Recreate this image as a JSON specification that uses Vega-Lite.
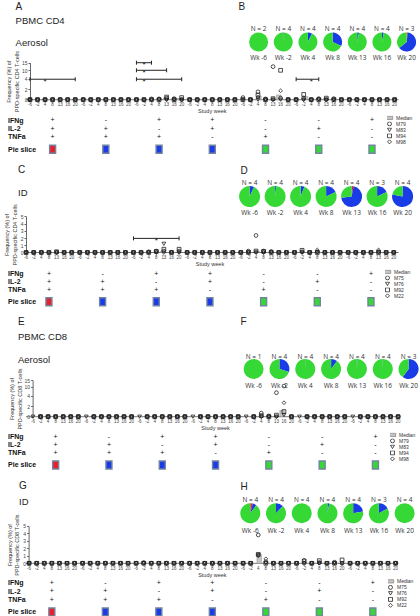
{
"$schema": "https://vega.github.io/schema/vega-lite/v6.json",
"padding": {"left": 4, "top": 1, "right": 0, "bottom": 0},
"autosize": {"type": "pad"},
"spacing": 0,
"bounds": "flush",
"config": {"view": {"stroke": null}, "font": "Liberation Sans",
 "axis": {"grid": false, "labelFontSize": 5, "labelPadding": 1, "tickSize": 2, "titleFontSize": 5.5, "titleFontWeight": "normal", "domainColor": "#666", "tickColor": "#666", "labelColor": "#444", "titleColor": "#333"},
 "legend": {"orient": "none", "symbolSize": 16, "symbolStrokeWidth": 0.8, "labelFontSize": 5, "labelColor": "#333", "labelOffset": 4, "rowPadding": 0, "clipHeight": 4.7, "padding": 0},
 "title": {"anchor": "start", "frame": "group", "font": "Liberation Sans", "fontSize": 10, "fontWeight": "normal", "color": "#222", "subtitleFont": "Liberation Sans", "subtitleFontSize": 9.5, "subtitleColor": "#222", "subtitleLineHeight": 23}},
"datasets": {
"tbl": [
{"g":1,"r":"IFNg","s":"+"},{"g":1,"r":"IL-2","s":"+"},{"g":1,"r":"TNFa","s":"+"},
{"g":2,"r":"IFNg","s":"-"},{"g":2,"r":"IL-2","s":"+"},{"g":2,"r":"TNFa","s":"+"},
{"g":3,"r":"IFNg","s":"+"},{"g":3,"r":"IL-2","s":"-"},{"g":3,"r":"TNFa","s":"+"},
{"g":4,"r":"IFNg","s":"+"},{"g":4,"r":"IL-2","s":"+"},{"g":4,"r":"TNFa","s":"-"},
{"g":5,"r":"IFNg","s":"-"},{"g":5,"r":"IL-2","s":"-"},{"g":5,"r":"TNFa","s":"+"},
{"g":6,"r":"IFNg","s":"-"},{"g":6,"r":"IL-2","s":"+"},{"g":6,"r":"TNFa","s":"-"},
{"g":7,"r":"IFNg","s":"+"},{"g":7,"r":"IL-2","s":"-"},{"g":7,"r":"TNFa","s":"-"}],
"sl": [{"g":1,"k":"3 cytokines"},{"g":2,"k":"2 cytokines"},{"g":3,"k":"2 cytokines"},{"g":4,"k":"2 cytokines"},{"g":5,"k":"1 cytokine"},{"g":6,"k":"1 cytokine"},{"g":7,"k":"1 cytokine"}],
"one": [{}],
"pA": [
{"g":1,"w":-6,"M79":0,"M83":0,"M94":0,"M98":0},{"g":1,"w":-2,"M79":0,"M83":0,"M94":0,"M98":0},{"g":1,"w":4,"M79":0,"M83":0,"M94":0,"M98":0},{"g":1,"w":8,"M79":0,"M83":0,"M94":0,"M98":0},{"g":1,"w":13,"M79":0,"M83":0,"M94":0,"M98":0},{"g":1,"w":16,"M79":0,"M83":0,"M94":0,"M98":0},{"g":1,"w":20,"M79":0,"M83":0,"M94":0,"M98":0},
{"g":2,"w":-6,"M79":0,"M83":0,"M94":0,"M98":0},{"g":2,"w":-2,"M79":0,"M83":0,"M94":0,"M98":0},{"g":2,"w":4,"M79":0,"M83":0,"M94":0,"M98":0},{"g":2,"w":8,"M79":0,"M83":0,"M94":0,"M98":0},{"g":2,"w":13,"M79":0,"M83":0,"M94":0,"M98":0},{"g":2,"w":16,"M79":0,"M83":0,"M94":0,"M98":0},{"g":2,"w":20,"M79":0,"M83":0,"M94":0,"M98":0},
{"g":3,"w":-6,"M79":0,"M83":0,"M94":0,"M98":0},{"g":3,"w":-2,"M79":0,"M83":0,"M94":0,"M98":0},{"g":3,"w":4,"M79":0.15,"M83":0,"M94":0,"M98":0},{"g":3,"w":8,"M79":0.15,"M83":0,"M94":0,"M98":0.1},{"g":3,"w":13,"M79":0.3,"M83":0,"M94":0.5,"M98":0},{"g":3,"w":16,"M79":0.2,"M83":0,"M94":0,"M98":0},{"g":3,"w":20,"M79":0,"M83":0,"M94":0.4,"M98":0},
{"g":4,"w":-6,"M79":0,"M83":0,"M94":0,"M98":0},{"g":4,"w":-2,"M79":0,"M83":0,"M94":0,"M98":0},{"g":4,"w":4,"M79":0,"M83":0,"M94":0,"M98":0},{"g":4,"w":8,"M79":0,"M83":0,"M94":0,"M98":0},{"g":4,"w":13,"M79":0,"M83":0,"M94":0,"M98":0},{"g":4,"w":16,"M79":0,"M83":0,"M94":0,"M98":0},{"g":4,"w":20,"M79":0,"M83":0,"M94":0,"M98":0},
{"g":5,"w":-6,"M79":0.4,"M83":0,"M94":0,"M98":0},{"g":5,"w":-2,"M79":0,"M83":0,"M94":0,"M98":0},{"g":5,"w":4,"M79":1.5,"M83":0,"M94":0.9,"M98":0.5},{"g":5,"w":8,"M79":0.15,"M83":0,"M94":0,"M98":0},{"g":5,"w":13,"M79":12.3,"M83":0,"M94":0.2,"M98":0},{"g":5,"w":16,"M79":0.3,"M83":0,"M94":9.8,"M98":1.7},{"g":5,"w":20,"M79":0,"M83":0,"M94":0,"M98":0},
{"g":6,"w":-6,"M79":0,"M83":0,"M94":0,"M98":0},{"g":6,"w":-2,"M79":0.3,"M83":0,"M94":1.0,"M98":0},{"g":6,"w":4,"M79":0,"M83":0,"M94":0,"M98":0},{"g":6,"w":8,"M79":0.2,"M83":0,"M94":0,"M98":0.15},{"g":6,"w":13,"M79":0,"M83":0,"M94":0.3,"M98":0},{"g":6,"w":16,"M79":0.2,"M83":0,"M94":0,"M98":0},{"g":6,"w":20,"M79":0,"M83":0,"M94":0,"M98":0},
{"g":7,"w":-6,"M79":0,"M83":0,"M94":0,"M98":0},{"g":7,"w":-2,"M79":0,"M83":0,"M94":0,"M98":0},{"g":7,"w":4,"M79":0,"M83":0,"M94":0,"M98":0},{"g":7,"w":8,"M79":0,"M83":0,"M94":0,"M98":0},{"g":7,"w":13,"M79":0,"M83":0,"M94":0,"M98":0},{"g":7,"w":16,"M79":0,"M83":0,"M94":0,"M98":0},{"g":7,"w":20,"M79":0,"M83":0,"M94":0,"M98":0}],
"mA": [{"g":3,"w":13,"v":0.35},{"g":3,"w":20,"v":0.25},{"g":5,"w":4,"v":0.7},{"g":5,"w":16,"v":0.9},{"g":6,"w":-2,"v":0.6},{"g":6,"w":13,"v":0.2}],
"bA": [{"b":1,"g":1,"w":-6,"y":3.9},{"b":1,"g":1,"w":20,"y":3.9},{"b":2,"g":3,"w":-6,"y":15},{"b":2,"g":3,"w":4,"y":15},{"b":3,"g":3,"w":-6,"y":9.8},{"b":3,"g":3,"w":13,"y":9.8},{"b":4,"g":3,"w":-6,"y":3.9},{"b":4,"g":3,"w":20,"y":3.9},{"b":5,"g":6,"w":-6,"y":3.9},{"b":5,"g":6,"w":8,"y":3.9}],
"sA": [{"g":1,"w":4,"y":3.9},{"g":3,"w":-2,"y":15},{"g":3,"w":-2,"y":9.8},{"g":3,"w":-2,"y":3.9},{"g":6,"w":4,"y":3.9}],
"pieA": [{"w":"Wk -6","k":"1 cytokine","f":1},{"w":"Wk -2","k":"2 cytokines","f":0.01},{"w":"Wk -2","k":"1 cytokine","f":0.99},{"w":"Wk 4","k":"2 cytokines","f":0.07},{"w":"Wk 4","k":"1 cytokine","f":0.93},{"w":"Wk 8","k":"2 cytokines","f":0.32},{"w":"Wk 8","k":"1 cytokine","f":0.68},{"w":"Wk 13","k":"2 cytokines","f":0.03},{"w":"Wk 13","k":"1 cytokine","f":0.97},{"w":"Wk 16","k":"2 cytokines","f":0.03},{"w":"Wk 16","k":"1 cytokine","f":0.97},{"w":"Wk 20","k":"3 cytokines","f":0.02},{"w":"Wk 20","k":"2 cytokines","f":0.62},{"w":"Wk 20","k":"1 cytokine","f":0.36}],
"nA": [{"w":"Wk -6","n":"N = 2"},{"w":"Wk -2","n":"N = 4"},{"w":"Wk 4","n":"N = 4"},{"w":"Wk 8","n":"N = 4"},{"w":"Wk 13","n":"N = 4"},{"w":"Wk 16","n":"N = 4"},{"w":"Wk 20","n":"N = 3"}],
"pC": [
{"g":1,"w":-6,"M75":0,"M76":0,"M92":0,"M22":0},{"g":1,"w":-2,"M75":0,"M76":0,"M92":0,"M22":0},{"g":1,"w":4,"M75":0,"M76":0,"M92":0,"M22":0},{"g":1,"w":8,"M75":0,"M76":0,"M92":0,"M22":0},{"g":1,"w":13,"M75":0,"M76":0,"M92":0.1,"M22":0},{"g":1,"w":16,"M75":0,"M76":0,"M92":0,"M22":0},{"g":1,"w":20,"M75":0,"M76":0,"M92":0,"M22":0},
{"g":2,"w":-6,"M75":0,"M76":0,"M92":0,"M22":0},{"g":2,"w":-2,"M75":0,"M76":0,"M92":0,"M22":0},{"g":2,"w":4,"M75":0,"M76":0,"M92":0,"M22":0},{"g":2,"w":8,"M75":0,"M76":0,"M92":0,"M22":0},{"g":2,"w":13,"M75":0,"M76":0,"M92":0,"M22":0},{"g":2,"w":16,"M75":0,"M76":0,"M92":0,"M22":0},{"g":2,"w":20,"M75":0,"M76":0,"M92":0,"M22":0},
{"g":3,"w":-6,"M75":0,"M76":0,"M92":0,"M22":0},{"g":3,"w":-2,"M75":0,"M76":0,"M92":0,"M22":0},{"g":3,"w":4,"M75":0.1,"M76":0,"M92":0,"M22":0},{"g":3,"w":8,"M75":0.2,"M76":0,"M92":0.15,"M22":0},{"g":3,"w":13,"M75":0.2,"M76":1.2,"M92":0.45,"M22":0},{"g":3,"w":16,"M75":0,"M76":0,"M92":0,"M22":0},{"g":3,"w":20,"M75":0.2,"M76":0,"M92":0.45,"M22":0},
{"g":4,"w":-6,"M75":0,"M76":0,"M92":0,"M22":0},{"g":4,"w":-2,"M75":0,"M76":0,"M92":0,"M22":0},{"g":4,"w":4,"M75":0,"M76":0,"M92":0,"M22":0},{"g":4,"w":8,"M75":0,"M76":0,"M92":0,"M22":0},{"g":4,"w":13,"M75":0,"M76":0,"M92":0,"M22":0},{"g":4,"w":16,"M75":0,"M76":0,"M92":0,"M22":0},{"g":4,"w":20,"M75":0,"M76":0,"M92":0,"M22":0},
{"g":5,"w":-6,"M75":0,"M76":0,"M92":0,"M22":0},{"g":5,"w":-2,"M75":0.2,"M76":0,"M92":0,"M22":0},{"g":5,"w":4,"M75":2.35,"M76":0,"M92":0.2,"M22":0},{"g":5,"w":8,"M75":0.2,"M76":0,"M92":0.15,"M22":0},{"g":5,"w":13,"M75":0.15,"M76":0,"M92":0,"M22":0},{"g":5,"w":16,"M75":0,"M76":0,"M92":0,"M22":0},{"g":5,"w":20,"M75":0,"M76":0,"M92":0,"M22":0},
{"g":6,"w":-6,"M75":0,"M76":0,"M92":0,"M22":0},{"g":6,"w":-2,"M75":0.1,"M76":0,"M92":0.3,"M22":0},{"g":6,"w":4,"M75":0,"M76":0,"M92":0,"M22":0},{"g":6,"w":8,"M75":0.1,"M76":0,"M92":0,"M22":0.35},{"g":6,"w":13,"M75":0,"M76":0,"M92":0,"M22":0},{"g":6,"w":16,"M75":0,"M76":0,"M92":0,"M22":0},{"g":6,"w":20,"M75":0,"M76":0,"M92":0,"M22":0},
{"g":7,"w":-6,"M75":0,"M76":0,"M92":0,"M22":0},{"g":7,"w":-2,"M75":0,"M76":0,"M92":0,"M22":0},{"g":7,"w":4,"M75":0,"M76":0,"M92":0,"M22":0},{"g":7,"w":8,"M75":0,"M76":0,"M92":0,"M22":0},{"g":7,"w":13,"M75":0.1,"M76":0,"M92":0,"M22":0.35},{"g":7,"w":16,"M75":0,"M76":0,"M92":0,"M22":0},{"g":7,"w":20,"M75":0,"M76":0,"M92":0,"M22":0}],
"mC": [{"g":3,"w":13,"v":0.2},{"g":5,"w":4,"v":0.2}],
"bC": [{"b":1,"g":3,"w":-6,"y":1.95},{"b":1,"g":3,"w":20,"y":1.95}],
"sC": [{"g":3,"w":8,"y":1.95}],
"pieC": [{"w":"Wk -6","k":"2 cytokines","f":0.07},{"w":"Wk -6","k":"1 cytokine","f":0.93},{"w":"Wk -2","k":"2 cytokines","f":0.02},{"w":"Wk -2","k":"1 cytokine","f":0.98},{"w":"Wk 4","k":"2 cytokines","f":0.06},{"w":"Wk 4","k":"1 cytokine","f":0.94},{"w":"Wk 8","k":"2 cytokines","f":0.18},{"w":"Wk 8","k":"1 cytokine","f":0.82},{"w":"Wk 13","k":"3 cytokines","f":0.03},{"w":"Wk 13","k":"2 cytokines","f":0.7},{"w":"Wk 13","k":"1 cytokine","f":0.27},{"w":"Wk 16","k":"2 cytokines","f":0.18},{"w":"Wk 16","k":"1 cytokine","f":0.82},{"w":"Wk 20","k":"2 cytokines","f":0.78},{"w":"Wk 20","k":"1 cytokine","f":0.22}],
"nC": [{"w":"Wk -6","n":"N = 4"},{"w":"Wk -2","n":"N = 4"},{"w":"Wk 4","n":"N = 4"},{"w":"Wk 8","n":"N = 4"},{"w":"Wk 13","n":"N = 4"},{"w":"Wk 16","n":"N = 3"},{"w":"Wk 20","n":"N = 4"}],
"pE": [
{"g":1,"w":-6,"M83":0},{"g":1,"w":-2,"M79":0,"M83":0,"M94":0,"M98":0},{"g":1,"w":4,"M79":0,"M83":0,"M94":0,"M98":0},{"g":1,"w":8,"M79":0,"M83":0,"M94":0,"M98":0},{"g":1,"w":13,"M79":0,"M83":0,"M94":0,"M98":0},{"g":1,"w":16,"M79":0,"M83":0,"M94":0,"M98":0},{"g":1,"w":20,"M79":0,"M83":0,"M94":0,"M98":0},
{"g":2,"w":-6,"M83":0},{"g":2,"w":-2,"M79":0,"M83":0,"M94":0,"M98":0},{"g":2,"w":4,"M79":0,"M83":0,"M94":0,"M98":0},{"g":2,"w":8,"M79":0,"M83":0,"M94":0,"M98":0},{"g":2,"w":13,"M79":0,"M83":0,"M94":0,"M98":0},{"g":2,"w":16,"M79":0,"M83":0,"M94":0,"M98":0},{"g":2,"w":20,"M79":0,"M83":0,"M94":0,"M98":0},
{"g":3,"w":-6,"M83":0},{"g":3,"w":-2,"M79":0,"M83":0,"M94":0,"M98":0},{"g":3,"w":4,"M79":0,"M83":0,"M94":0,"M98":0},{"g":3,"w":8,"M79":0,"M83":0,"M94":0,"M98":0},{"g":3,"w":13,"M79":0,"M83":0,"M94":0,"M98":0},{"g":3,"w":16,"M79":0,"M83":0,"M94":0,"M98":0},{"g":3,"w":20,"M79":0,"M83":0,"M94":0,"M98":0},
{"g":4,"w":-6,"M83":0},{"g":4,"w":-2,"M79":0,"M83":0,"M94":0,"M98":0},{"g":4,"w":4,"M79":0,"M83":0,"M94":0,"M98":0},{"g":4,"w":8,"M79":0,"M83":0,"M94":0,"M98":0},{"g":4,"w":13,"M79":0,"M83":0,"M94":0,"M98":0},{"g":4,"w":16,"M79":0,"M83":0,"M94":0,"M98":0},{"g":4,"w":20,"M79":0,"M83":0,"M94":0,"M98":0},
{"g":5,"w":-6,"M83":0},{"g":5,"w":-2,"M79":0,"M83":0,"M94":0,"M98":0},{"g":5,"w":4,"M79":0.7,"M83":0,"M94":0.2,"M98":0},{"g":5,"w":8,"M79":0.15,"M83":0,"M94":0,"M98":0},{"g":5,"w":13,"M79":6.2,"M83":0,"M94":0.3,"M98":0},{"g":5,"w":16,"M79":10.7,"M83":0.3,"M94":1.0,"M98":2.7},{"g":5,"w":20,"M79":0,"M83":0,"M94":0,"M98":0},
{"g":6,"w":-6,"M83":0},{"g":6,"w":-2,"M79":0,"M83":0,"M94":0,"M98":0},{"g":6,"w":4,"M79":0,"M83":0,"M94":0,"M98":0},{"g":6,"w":8,"M79":0,"M83":0,"M94":0,"M98":0},{"g":6,"w":13,"M79":0,"M83":0,"M94":0,"M98":0},{"g":6,"w":16,"M79":0,"M83":0,"M94":0,"M98":0},{"g":6,"w":20,"M79":0,"M83":0,"M94":0,"M98":0},
{"g":7,"w":-6,"M83":0},{"g":7,"w":-2,"M79":0,"M83":0,"M94":0,"M98":0},{"g":7,"w":4,"M79":0,"M83":0,"M94":0,"M98":0},{"g":7,"w":8,"M79":0,"M83":0,"M94":0,"M98":0},{"g":7,"w":13,"M79":0,"M83":0,"M94":0,"M98":0},{"g":7,"w":16,"M79":0,"M83":0,"M94":0,"M98":0},{"g":7,"w":20,"M79":0,"M83":0,"M94":0,"M98":0}],
"mE": [{"g":5,"w":16,"v":1.2}],
"pieE": [{"w":"Wk -6","k":"1 cytokine","f":1},{"w":"Wk -2","k":"2 cytokines","f":0.3},{"w":"Wk -2","k":"1 cytokine","f":0.7},{"w":"Wk 4","k":"2 cytokines","f":0.005},{"w":"Wk 4","k":"1 cytokine","f":0.995},{"w":"Wk 8","k":"2 cytokines","f":0.1},{"w":"Wk 8","k":"1 cytokine","f":0.9},{"w":"Wk 13","k":"2 cytokines","f":0.01},{"w":"Wk 13","k":"1 cytokine","f":0.99},{"w":"Wk 16","k":"2 cytokines","f":0.005},{"w":"Wk 16","k":"1 cytokine","f":0.995},{"w":"Wk 20","k":"2 cytokines","f":0.6},{"w":"Wk 20","k":"1 cytokine","f":0.4}],
"nE": [{"w":"Wk -6","n":"N = 1"},{"w":"Wk -2","n":"N = 4"},{"w":"Wk 4","n":"N = 4"},{"w":"Wk 8","n":"N = 4"},{"w":"Wk 13","n":"N = 4"},{"w":"Wk 16","n":"N = 4"},{"w":"Wk 20","n":"N = 3"}],
"pG": [
{"g":1,"w":-6,"M75":0,"M76":0,"M92":0,"M22":0},{"g":1,"w":-2,"M75":0,"M76":0,"M92":0,"M22":0},{"g":1,"w":4,"M75":0,"M76":0,"M92":0,"M22":0},{"g":1,"w":8,"M75":0,"M76":0,"M92":0,"M22":0},{"g":1,"w":13,"M75":0,"M76":0,"M92":0,"M22":0},{"g":1,"w":16,"M75":0,"M76":0,"M92":0,"M22":0},{"g":1,"w":20,"M75":0,"M76":0,"M92":0,"M22":0},
{"g":2,"w":-6,"M75":0,"M76":0,"M92":0,"M22":0},{"g":2,"w":-2,"M75":0,"M76":0,"M92":0,"M22":0},{"g":2,"w":4,"M75":0,"M76":0,"M92":0,"M22":0},{"g":2,"w":8,"M75":0,"M76":0,"M92":0,"M22":0},{"g":2,"w":13,"M75":0,"M76":0,"M92":0,"M22":0},{"g":2,"w":16,"M75":0,"M76":0,"M92":0,"M22":0},{"g":2,"w":20,"M75":0,"M76":0,"M92":0,"M22":0},
{"g":3,"w":-6,"M75":0,"M76":0,"M92":0,"M22":0},{"g":3,"w":-2,"M75":0.1,"M76":0,"M92":0,"M22":0},{"g":3,"w":4,"M75":0,"M76":0,"M92":0,"M22":0},{"g":3,"w":8,"M75":0,"M76":0,"M92":0,"M22":0},{"g":3,"w":13,"M75":0,"M76":0,"M92":0,"M22":0},{"g":3,"w":16,"M75":0,"M76":0,"M92":0,"M22":0},{"g":3,"w":20,"M75":0,"M76":0,"M92":0,"M22":0},
{"g":4,"w":-6,"M75":0,"M76":0,"M92":0,"M22":0},{"g":4,"w":-2,"M75":0,"M76":0,"M92":0,"M22":0},{"g":4,"w":4,"M75":0,"M76":0,"M92":0,"M22":0},{"g":4,"w":8,"M75":0,"M76":0,"M92":0,"M22":0},{"g":4,"w":13,"M75":0,"M76":0,"M92":0,"M22":0},{"g":4,"w":16,"M75":0,"M76":0,"M92":0,"M22":0},{"g":4,"w":20,"M75":0,"M76":0,"M92":0,"M22":0},
{"g":5,"w":-6,"M75":0,"M76":0,"M92":0,"M22":0},{"g":5,"w":-2,"M75":0,"M76":0,"M92":0,"M22":0},{"g":5,"w":4,"M75":3.8,"M76":1.1,"M92":1.2,"M22":1.0},{"g":5,"w":8,"M75":0.2,"M76":0,"M92":0,"M22":0.6},{"g":5,"w":13,"M75":0,"M76":0,"M92":0,"M22":0},{"g":5,"w":16,"M75":0,"M76":0,"M92":0,"M22":0},{"g":5,"w":20,"M75":0,"M76":0,"M92":0,"M22":0},
{"g":6,"w":-6,"M75":0,"M76":0,"M92":0,"M22":0},{"g":6,"w":-2,"M75":0,"M76":0,"M92":0.3,"M22":0.45},{"g":6,"w":4,"M75":0,"M76":0,"M92":0,"M22":0},{"g":6,"w":8,"M75":0.1,"M76":0,"M92":0.35,"M22":0},{"g":6,"w":13,"M75":0,"M76":0,"M92":0,"M22":0},{"g":6,"w":16,"M75":0.15,"M76":0,"M92":0,"M22":0},{"g":6,"w":20,"M75":0,"M76":0,"M92":0.45,"M22":0},
{"g":7,"w":-6,"M75":0,"M76":0,"M92":0,"M22":0},{"g":7,"w":-2,"M75":0,"M76":0,"M92":0,"M22":0},{"g":7,"w":4,"M75":0,"M76":0,"M92":0,"M22":0},{"g":7,"w":8,"M75":0,"M76":0,"M92":0,"M22":0},{"g":7,"w":13,"M75":0,"M76":0,"M92":0,"M22":0},{"g":7,"w":16,"M75":0,"M76":0,"M92":0,"M22":0},{"g":7,"w":20,"M75":0,"M76":0,"M92":0,"M22":0}],
"mG": [{"g":5,"w":4,"v":1.2}],
"pieG": [{"w":"Wk -6","k":"3 cytokines","f":0.04},{"w":"Wk -6","k":"2 cytokines","f":0.06},{"w":"Wk -6","k":"1 cytokine","f":0.9},{"w":"Wk -2","k":"2 cytokines","f":0.12},{"w":"Wk -2","k":"1 cytokine","f":0.88},{"w":"Wk 4","k":"1 cytokine","f":1},{"w":"Wk 8","k":"2 cytokines","f":0.03},{"w":"Wk 8","k":"1 cytokine","f":0.97},{"w":"Wk 13","k":"2 cytokines","f":0.22},{"w":"Wk 13","k":"1 cytokine","f":0.78},{"w":"Wk 16","k":"2 cytokines","f":0.17},{"w":"Wk 16","k":"1 cytokine","f":0.83},{"w":"Wk 20","k":"1 cytokine","f":1}],
"nG": [{"w":"Wk -6","n":"N = 4"},{"w":"Wk -2","n":"N = 4"},{"w":"Wk 4","n":"N = 4"},{"w":"Wk 8","n":"N = 4"},{"w":"Wk 13","n":"N = 4"},{"w":"Wk 16","n":"N = 3"},{"w":"Wk 20","n":"N = 4"}]
},
"vconcat": [
{
"width": 372.6, "height": 150,
"title": {"text": "A", "subtitle": ["PBMC CD4", "Aerosol"], "dx": -10.4, "offset": -46.5, "subtitlePadding": 3.5},
"resolve": {"scale": {"x": "independent", "y": "independent", "xOffset": "independent"}},
"layer": [
{"data": {"name": "one"}, "mark": {"type": "rule", "color": "#555", "strokeWidth": 0.8},
 "encoding": {"y": {"datum": 0, "type": "quantitative", "scale": {"domain": [0,4,10,15], "range": [43.7,22.7,14,6.7]}, "axis": null}}},
{"data": {"name": "mA"}, "mark": {"type": "bar", "width": 4.5, "fill": "#c6c6c6", "stroke": "#8c8c8c", "strokeWidth": 0.5},
 "encoding": {"x": {"field": "g", "type": "ordinal", "scale": {"domain": [1,2,3,4,5,6,7], "paddingInner": 0, "paddingOuter": 0}, "axis": null}, "xOffset": {"field": "w", "type": "ordinal", "scale": {"domain": [-6,-2,4,8,13,16,20], "paddingInner": 0, "paddingOuter": 0.53}},
  "y": {"field": "v", "type": "quantitative", "scale": {"domain": [0,4,10,15], "range": [43.7,22.7,14,6.7]}, "axis": null}}},
{"data": {"name": "pA"}, "transform": [{"fold": ["M79","M83","M94","M98"], "as": ["m","v"]}], "mark": {"type": "point", "size": 14, "strokeWidth": 0.8, "opacity": 1},
 "encoding": {
  "x": {"field": "g", "type": "ordinal", "scale": {"domain": [1,2,3,4,5,6,7], "paddingInner": 0, "paddingOuter": 0}, "axis": null},
  "xOffset": {"field": "w", "type": "ordinal", "scale": {"domain": [-6,-2,4,8,13,16,20], "paddingInner": 0, "paddingOuter": 0.53}},
  "y": {"field": "v", "type": "quantitative", "scale": {"domain": [0,4,10,15], "range": [43.7,22.7,14,6.7]}, "axis": {"orient": "left", "offset": -4, "values": [0,2,4,10,15], "title": ["Frequency (%) of","PPD-specific CD4 T-cells"], "titlePadding": 2}},
  "shape": {"field": "m", "type": "nominal", "scale": {"domain": ["Median","M79","M83","M94","M98"], "range": ["M-1.6,-0.8H1.6V0.8H-1.6Z","circle","triangle-down","square","diamond"]}, "legend": {"title": null, "legendX": 361, "legendY": 59.5, "encode": {"labels": {"update": {"fontSize": {"signal": "datum.label === 'Median' ? 6.5 : 5"}}}}}},
  "fill": {"field": "m", "type": "nominal", "scale": {"domain": ["Median","M79","M83","M94","M98"], "range": ["#c6c6c6","transparent","transparent","transparent","transparent"]}, "legend": {"title": null, "legendX": 361, "legendY": 59.5, "encode": {"labels": {"update": {"fontSize": {"signal": "datum.label === 'Median' ? 6.5 : 5"}}}}}},
  "stroke": {"field": "m", "type": "nominal", "scale": {"domain": ["Median","M79","M83","M94","M98"], "range": ["#8c8c8c","#222","#222","#222","#222"]}, "legend": {"title": null, "legendX": 361, "legendY": 59.5, "encode": {"labels": {"update": {"fontSize": {"signal": "datum.label === 'Median' ? 6.5 : 5"}}}}}}
 }},
{"data": {"name": "pA"}, "mark": {"type": "text", "fontSize": 4.5, "color": "#444", "dy": 5.5, "baseline": "middle"},
 "encoding": {"x": {"field": "g", "type": "ordinal", "scale": {"domain": [1,2,3,4,5,6,7], "paddingInner": 0, "paddingOuter": 0}, "axis": null}, "xOffset": {"field": "w", "type": "ordinal", "scale": {"domain": [-6,-2,4,8,13,16,20], "paddingInner": 0, "paddingOuter": 0.53}},
  "y": {"datum": 0, "type": "quantitative", "scale": {"domain": [0,4,10,15], "range": [43.7,22.7,14,6.7]}, "axis": null}, "text": {"field": "w", "type": "nominal"}}},
{"data": {"name": "one"}, "mark": {"type": "text", "text": "Study week", "fontSize": 5.5, "color": "#333", "dy": 11.5, "baseline": "middle"},
 "encoding": {"x": {"datum": 4, "type": "ordinal", "scale": {"domain": [1,2,3,4,5,6,7], "paddingInner": 0, "paddingOuter": 0}, "axis": null},
  "y": {"datum": 0, "type": "quantitative", "scale": {"domain": [0,4,10,15], "range": [43.7,22.7,14,6.7]}, "axis": null}}},
{"data": {"name": "bA"}, "mark": {"type": "line", "color": "#222", "strokeWidth": 1},
 "encoding": {"x": {"field": "g", "type": "ordinal", "scale": {"domain": [1,2,3,4,5,6,7], "paddingInner": 0, "paddingOuter": 0}, "axis": null}, "xOffset": {"field": "w", "type": "ordinal", "scale": {"domain": [-6,-2,4,8,13,16,20], "paddingInner": 0, "paddingOuter": 0.53}},
  "y": {"field": "y", "type": "quantitative", "scale": {"domain": [0,4,10,15], "range": [43.7,22.7,14,6.7]}, "axis": null}, "detail": {"field": "b", "type": "nominal"}}},
{"data": {"name": "bA"}, "mark": {"type": "point", "shape": "M0,-1V1", "size": 16, "stroke": "#222", "strokeWidth": 1, "filled": false, "opacity": 1},
 "encoding": {"x": {"field": "g", "type": "ordinal", "scale": {"domain": [1,2,3,4,5,6,7], "paddingInner": 0, "paddingOuter": 0}, "axis": null}, "xOffset": {"field": "w", "type": "ordinal", "scale": {"domain": [-6,-2,4,8,13,16,20], "paddingInner": 0, "paddingOuter": 0.53}},
  "y": {"field": "y", "type": "quantitative", "scale": {"domain": [0,4,10,15], "range": [43.7,22.7,14,6.7]}, "axis": null}}},
{"data": {"name": "sA"}, "mark": {"type": "text", "text": "*", "fontSize": 8, "dy": 2.5, "color": "#222"},
 "encoding": {"x": {"field": "g", "type": "ordinal", "scale": {"domain": [1,2,3,4,5,6,7], "paddingInner": 0, "paddingOuter": 0}, "axis": null}, "xOffset": {"field": "w", "type": "ordinal", "scale": {"domain": [-6,-2,4,8,13,16,20], "paddingInner": 0, "paddingOuter": 0.53}},
  "y": {"field": "y", "type": "quantitative", "scale": {"domain": [0,4,10,15], "range": [43.7,22.7,14,6.7]}, "axis": null}}},
{"data": {"name": "tbl"}, "mark": {"type": "text", "fontSize": 7, "color": "#111", "baseline": "middle"},
 "encoding": {"x": {"field": "g", "type": "ordinal", "scale": {"domain": [1,2,3,4,5,6,7], "paddingInner": 0, "paddingOuter": 0}, "axis": null},
  "y": {"field": "r", "type": "nominal", "scale": {"type": "point", "domain": ["IFNg","a","IL-2","b","TNFa","c","d","Pie slice"], "range": [64.3, 93.3], "padding": 0}, "axis": {"orient": "left", "domain": false, "ticks": false, "tickSize": 0, "labelPadding": 18.4, "labelAlign": "left", "labelBaseline": "middle", "labelFontSize": 7, "labelFontWeight": "bold", "labelColor": "#111", "title": null, "values": ["IFNg","IL-2","TNFa","Pie slice"]}},
  "text": {"field": "s", "type": "nominal"}}},
{"data": {"name": "sl"}, "mark": {"type": "point", "shape": "M-0.75,-1H0.75V1H-0.75Z", "size": 64, "filled": true, "opacity": 1, "stroke": "#7284a0", "strokeWidth": 1.4},
 "encoding": {"x": {"field": "g", "type": "ordinal", "scale": {"domain": [1,2,3,4,5,6,7], "paddingInner": 0, "paddingOuter": 0}, "axis": null},
  "y": {"datum": "Pie slice", "type": "nominal", "scale": {"type": "point", "domain": ["IFNg","a","IL-2","b","TNFa","c","d","Pie slice"], "range": [64.3, 93.3], "padding": 0}, "axis": null},
  "color": {"field": "k", "type": "nominal", "scale": {"domain": ["3 cytokines","2 cytokines","1 cytokine"], "range": ["#e8202a","#1a3ce6","#35d835"]}, "legend": null}}},
{"data": {"name": "pieA"}, "transform": [{"stack": "f", "groupby": ["w"], "sort": [{"field": "k", "order": "descending"}], "offset": "normalize", "as": ["f0","f1"]}], "mark": {"type": "arc", "radius": 9.5},
 "encoding": {"x": {"field": "w", "type": "ordinal", "scale": {"type": "point", "domain": ["Wk -6","Wk -2","Wk 4","Wk 8","Wk 13","Wk 16","Wk 20"], "range": [232.6, 380.6], "padding": 0}, "axis": null},
  "y": {"datum": 0, "type": "quantitative", "scale": {"domain": [0,1], "range": [-14,-24]}, "axis": null},
  "theta": {"field": "f0", "type": "quantitative", "scale": {"domain": [0,1], "range": [0, 6.2832]}, "stack": null}, "theta2": {"field": "f1"},
  "color": {"field": "k", "type": "nominal", "scale": {"domain": ["3 cytokines","2 cytokines","1 cytokine"], "range": ["#e8202a","#1a3ce6","#35d835"]}, "legend": null}}},
{"data": {"name": "nA"}, "mark": {"type": "text", "font": "Open Sans", "fontSize": 6.5, "color": "#333", "dy": -13, "baseline": "middle"},
 "encoding": {"x": {"field": "w", "type": "ordinal", "scale": {"type": "point", "domain": ["Wk -6","Wk -2","Wk 4","Wk 8","Wk 13","Wk 16","Wk 20"], "range": [232.6, 380.6], "padding": 0}, "axis": null},
  "y": {"datum": 0, "type": "quantitative", "scale": {"domain": [0,1], "range": [-14,-24]}, "axis": null}, "text": {"field": "n", "type": "nominal"}}},
{"data": {"name": "nA"}, "mark": {"type": "text", "font": "Open Sans", "fontSize": 6.5, "color": "#333", "dy": 16.3, "baseline": "middle"},
 "encoding": {"x": {"field": "w", "type": "ordinal", "scale": {"type": "point", "domain": ["Wk -6","Wk -2","Wk 4","Wk 8","Wk 13","Wk 16","Wk 20"], "range": [232.6, 380.6], "padding": 0}, "axis": null},
  "y": {"datum": 0, "type": "quantitative", "scale": {"domain": [0,1], "range": [-14,-24]}, "axis": null}, "text": {"field": "w", "type": "nominal"}}},
{"data": {"name": "one"}, "mark": {"type": "text", "text": "B", "font": "Liberation Sans", "fontSize": 10, "align": "left", "baseline": "alphabetic", "dx": -20, "dy": -32.5, "color": "#222"},
 "encoding": {"x": {"datum": "Wk -6", "type": "ordinal", "scale": {"type": "point", "domain": ["Wk -6","Wk -2","Wk 4","Wk 8","Wk 13","Wk 16","Wk 20"], "range": [232.6, 380.6], "padding": 0}, "axis": null},
  "y": {"datum": 0, "type": "quantitative", "scale": {"domain": [0,1], "range": [-14,-24]}, "axis": null}}}
]
},
{
"width": 372.6, "height": 165,
"title": {"text": "C", "subtitle": ["ID"], "dx": -8, "offset": -31.3, "subtitlePadding": 12.5},
"resolve": {"scale": {"x": "independent", "y": "independent", "xOffset": "independent"}},
"layer": [
{"data": {"name": "one"}, "mark": {"type": "rule", "color": "#555", "strokeWidth": 0.8},
 "encoding": {"y": {"datum": 0, "type": "quantitative", "scale": {"domain": [0,5], "range": [46.5,10.3]}, "axis": null}}},
{"data": {"name": "mC"}, "mark": {"type": "bar", "width": 4.5, "fill": "#c6c6c6", "stroke": "#8c8c8c", "strokeWidth": 0.5},
 "encoding": {"x": {"field": "g", "type": "ordinal", "scale": {"domain": [1,2,3,4,5,6,7], "range": [-3.9, 371.8], "paddingInner": 0, "paddingOuter": 0}, "axis": null}, "xOffset": {"field": "w", "type": "ordinal", "scale": {"domain": [-6,-2,4,8,13,16,20], "paddingInner": 0, "paddingOuter": 0.53}},
  "y": {"field": "v", "type": "quantitative", "scale": {"domain": [0,5], "range": [46.5,10.3]}, "axis": null}}},
{"data": {"name": "pC"}, "transform": [{"fold": ["M75","M76","M92","M22"], "as": ["m","v"]}], "mark": {"type": "point", "size": 14, "strokeWidth": 0.8, "opacity": 1},
 "encoding": {
  "x": {"field": "g", "type": "ordinal", "scale": {"domain": [1,2,3,4,5,6,7], "range": [-3.9, 371.8], "paddingInner": 0, "paddingOuter": 0}, "axis": null},
  "xOffset": {"field": "w", "type": "ordinal", "scale": {"domain": [-6,-2,4,8,13,16,20], "paddingInner": 0, "paddingOuter": 0.53}},
  "y": {"field": "v", "type": "quantitative", "scale": {"domain": [0,5], "range": [46.5,10.3]}, "axis": {"orient": "left", "offset": 0, "values": [0,1,2,3,4,5], "title": ["Frequency (%) of","PPD-specific CD4 T-cells"], "titlePadding": 3}},
  "shape": {"field": "m", "type": "nominal", "scale": {"domain": ["Median","M75","M76","M92","M22"], "range": ["M-1.6,-0.8H1.6V0.8H-1.6Z","circle","triangle-down","square","diamond"]}, "legend": {"title": null, "legendX": 359, "legendY": 63.5, "encode": {"labels": {"update": {"fontSize": {"signal": "datum.label === 'Median' ? 6.5 : 5"}}}}}},
  "fill": {"field": "m", "type": "nominal", "scale": {"domain": ["Median","M75","M76","M92","M22"], "range": ["#c6c6c6","transparent","transparent","transparent","transparent"]}, "legend": {"title": null, "legendX": 359, "legendY": 63.5, "encode": {"labels": {"update": {"fontSize": {"signal": "datum.label === 'Median' ? 6.5 : 5"}}}}}},
  "stroke": {"field": "m", "type": "nominal", "scale": {"domain": ["Median","M75","M76","M92","M22"], "range": ["#8c8c8c","#222","#222","#222","#222"]}, "legend": {"title": null, "legendX": 359, "legendY": 63.5, "encode": {"labels": {"update": {"fontSize": {"signal": "datum.label === 'Median' ? 6.5 : 5"}}}}}}
 }},
{"data": {"name": "pC"}, "mark": {"type": "text", "fontSize": 4.5, "color": "#444", "dy": 5.5, "baseline": "middle"},
 "encoding": {"x": {"field": "g", "type": "ordinal", "scale": {"domain": [1,2,3,4,5,6,7], "range": [-3.9, 371.8], "paddingInner": 0, "paddingOuter": 0}, "axis": null}, "xOffset": {"field": "w", "type": "ordinal", "scale": {"domain": [-6,-2,4,8,13,16,20], "paddingInner": 0, "paddingOuter": 0.53}},
  "y": {"datum": 0, "type": "quantitative", "scale": {"domain": [0,5], "range": [46.5,10.3]}, "axis": null}, "text": {"field": "w", "type": "nominal"}}},
{"data": {"name": "one"}, "mark": {"type": "text", "text": "Study week", "fontSize": 5.5, "color": "#333", "dy": 11.5, "baseline": "middle"},
 "encoding": {"x": {"datum": 4, "type": "ordinal", "scale": {"domain": [1,2,3,4,5,6,7], "range": [-3.9, 371.8], "paddingInner": 0, "paddingOuter": 0}, "axis": null},
  "y": {"datum": 0, "type": "quantitative", "scale": {"domain": [0,5], "range": [46.5,10.3]}, "axis": null}}},
{"data": {"name": "bC"}, "mark": {"type": "line", "color": "#222", "strokeWidth": 1},
 "encoding": {"x": {"field": "g", "type": "ordinal", "scale": {"domain": [1,2,3,4,5,6,7], "range": [-3.9, 371.8], "paddingInner": 0, "paddingOuter": 0}, "axis": null}, "xOffset": {"field": "w", "type": "ordinal", "scale": {"domain": [-6,-2,4,8,13,16,20], "paddingInner": 0, "paddingOuter": 0.53}},
  "y": {"field": "y", "type": "quantitative", "scale": {"domain": [0,5], "range": [46.5,10.3]}, "axis": null}, "detail": {"field": "b", "type": "nominal"}}},
{"data": {"name": "bC"}, "mark": {"type": "point", "shape": "M0,-1V1", "size": 16, "stroke": "#222", "strokeWidth": 1, "filled": false, "opacity": 1},
 "encoding": {"x": {"field": "g", "type": "ordinal", "scale": {"domain": [1,2,3,4,5,6,7], "range": [-3.9, 371.8], "paddingInner": 0, "paddingOuter": 0}, "axis": null}, "xOffset": {"field": "w", "type": "ordinal", "scale": {"domain": [-6,-2,4,8,13,16,20], "paddingInner": 0, "paddingOuter": 0.53}},
  "y": {"field": "y", "type": "quantitative", "scale": {"domain": [0,5], "range": [46.5,10.3]}, "axis": null}}},
{"data": {"name": "sC"}, "mark": {"type": "text", "text": "*", "fontSize": 8, "dy": 2.5, "color": "#222"},
 "encoding": {"x": {"field": "g", "type": "ordinal", "scale": {"domain": [1,2,3,4,5,6,7], "range": [-3.9, 371.8], "paddingInner": 0, "paddingOuter": 0}, "axis": null}, "xOffset": {"field": "w", "type": "ordinal", "scale": {"domain": [-6,-2,4,8,13,16,20], "paddingInner": 0, "paddingOuter": 0.53}},
  "y": {"field": "y", "type": "quantitative", "scale": {"domain": [0,5], "range": [46.5,10.3]}, "axis": null}}},
{"data": {"name": "tbl"}, "mark": {"type": "text", "fontSize": 7, "color": "#111", "baseline": "middle"},
 "encoding": {"x": {"field": "g", "type": "ordinal", "scale": {"domain": [1,2,3,4,5,6,7], "range": [-3.9, 371.8], "paddingInner": 0, "paddingOuter": 0}, "axis": null},
  "y": {"field": "r", "type": "nominal", "scale": {"type": "point", "domain": ["IFNg","a","IL-2","b","TNFa","c","d","Pie slice"], "range": [67.7, 95.7], "padding": 0}, "axis": {"orient": "left", "domain": false, "ticks": false, "tickSize": 0, "labelPadding": 18.4, "labelAlign": "left", "labelBaseline": "middle", "labelFontSize": 7, "labelFontWeight": "bold", "labelColor": "#111", "title": null, "values": ["IFNg","IL-2","TNFa","Pie slice"]}},
  "text": {"field": "s", "type": "nominal"}}},
{"data": {"name": "sl"}, "mark": {"type": "point", "shape": "M-0.75,-1H0.75V1H-0.75Z", "size": 64, "filled": true, "opacity": 1, "stroke": "#7284a0", "strokeWidth": 1.4},
 "encoding": {"x": {"field": "g", "type": "ordinal", "scale": {"domain": [1,2,3,4,5,6,7], "range": [-3.9, 371.8], "paddingInner": 0, "paddingOuter": 0}, "axis": null},
  "y": {"datum": "Pie slice", "type": "nominal", "scale": {"type": "point", "domain": ["IFNg","a","IL-2","b","TNFa","c","d","Pie slice"], "range": [67.7, 95.7], "padding": 0}, "axis": null},
  "color": {"field": "k", "type": "nominal", "scale": {"domain": ["3 cytokines","2 cytokines","1 cytokine"], "range": ["#e8202a","#1a3ce6","#35d835"]}, "legend": null}}},
{"data": {"name": "pieC"}, "transform": [{"stack": "f", "groupby": ["w"], "sort": [{"field": "k", "order": "descending"}], "offset": "normalize", "as": ["f0","f1"]}], "mark": {"type": "arc", "radius": 10.5},
 "encoding": {"x": {"field": "w", "type": "ordinal", "scale": {"type": "point", "domain": ["Wk -6","Wk -2","Wk 4","Wk 8","Wk 13","Wk 16","Wk 20"], "range": [223.6, 376.6], "padding": 0}, "axis": null},
  "y": {"datum": 0, "type": "quantitative", "scale": {"domain": [0,1], "range": [-9.5,-19.5]}, "axis": null},
  "theta": {"field": "f0", "type": "quantitative", "scale": {"domain": [0,1], "range": [0, 6.2832]}, "stack": null}, "theta2": {"field": "f1"},
  "color": {"field": "k", "type": "nominal", "scale": {"domain": ["3 cytokines","2 cytokines","1 cytokine"], "range": ["#e8202a","#1a3ce6","#35d835"]}, "legend": null}}},
{"data": {"name": "nC"}, "mark": {"type": "text", "font": "Open Sans", "fontSize": 6.5, "color": "#333", "dy": -13.2, "baseline": "middle"},
 "encoding": {"x": {"field": "w", "type": "ordinal", "scale": {"type": "point", "domain": ["Wk -6","Wk -2","Wk 4","Wk 8","Wk 13","Wk 16","Wk 20"], "range": [223.6, 376.6], "padding": 0}, "axis": null},
  "y": {"datum": 0, "type": "quantitative", "scale": {"domain": [0,1], "range": [-9.5,-19.5]}, "axis": null}, "text": {"field": "n", "type": "nominal"}}},
{"data": {"name": "nC"}, "mark": {"type": "text", "font": "Open Sans", "fontSize": 6.5, "color": "#333", "dy": 16.2, "baseline": "middle"},
 "encoding": {"x": {"field": "w", "type": "ordinal", "scale": {"type": "point", "domain": ["Wk -6","Wk -2","Wk 4","Wk 8","Wk 13","Wk 16","Wk 20"], "range": [223.6, 376.6], "padding": 0}, "axis": null},
  "y": {"datum": 0, "type": "quantitative", "scale": {"domain": [0,1], "range": [-9.5,-19.5]}, "axis": null}, "text": {"field": "w", "type": "nominal"}}},
{"data": {"name": "one"}, "mark": {"type": "text", "text": "D", "font": "Liberation Sans", "fontSize": 10, "align": "left", "baseline": "alphabetic", "dx": -9, "dy": -22.5, "color": "#222"},
 "encoding": {"x": {"datum": "Wk -6", "type": "ordinal", "scale": {"type": "point", "domain": ["Wk -6","Wk -2","Wk 4","Wk 8","Wk 13","Wk 16","Wk 20"], "range": [223.6, 376.6], "padding": 0}, "axis": null},
  "y": {"datum": 0, "type": "quantitative", "scale": {"domain": [0,1], "range": [-9.5,-19.5]}, "axis": null}}}
]
},
{
"width": 372.6, "height": 144,
"title": {"text": "E", "subtitle": ["PBMC CD8", "Aerosol"], "dx": -8, "offset": -47.5, "subtitlePadding": 4.5},
"resolve": {"scale": {"x": "independent", "y": "independent", "xOffset": "independent"}},
"layer": [
{"data": {"name": "one"}, "mark": {"type": "rule", "color": "#555", "strokeWidth": 0.8},
 "encoding": {"y": {"datum": 0, "type": "quantitative", "scale": {"domain": [0,4,10,15], "range": [45.7,25,16,9.3]}, "axis": null}}},
{"data": {"name": "mE"}, "mark": {"type": "bar", "width": 4.5, "fill": "#c6c6c6", "stroke": "#8c8c8c", "strokeWidth": 0.5},
 "encoding": {"x": {"field": "g", "type": "ordinal", "scale": {"domain": [1,2,3,4,5,6,7], "range": [3, 376.1], "paddingInner": 0, "paddingOuter": 0}, "axis": null}, "xOffset": {"field": "w", "type": "ordinal", "scale": {"domain": [-6,-2,4,8,13,16,20], "paddingInner": 0, "paddingOuter": 0.53}},
  "y": {"field": "v", "type": "quantitative", "scale": {"domain": [0,4,10,15], "range": [45.7,25,16,9.3]}, "axis": null}}},
{"data": {"name": "pE"}, "transform": [{"fold": ["M79","M83","M94","M98"], "as": ["m","v"]}], "mark": {"type": "point", "size": 14, "strokeWidth": 0.8, "opacity": 1},
 "encoding": {
  "x": {"field": "g", "type": "ordinal", "scale": {"domain": [1,2,3,4,5,6,7], "range": [3, 376.1], "paddingInner": 0, "paddingOuter": 0}, "axis": null},
  "xOffset": {"field": "w", "type": "ordinal", "scale": {"domain": [-6,-2,4,8,13,16,20], "paddingInner": 0, "paddingOuter": 0.53}},
  "y": {"field": "v", "type": "quantitative", "scale": {"domain": [0,4,10,15], "range": [45.7,25,16,9.3]}, "axis": {"orient": "left", "offset": -6.6, "values": [0,2,4,10,15], "title": ["Frequency (%) of","PPD-specific CD8 T-cells"], "titlePadding": 2}},
  "shape": {"field": "m", "type": "nominal", "scale": {"domain": ["Median","M79","M83","M94","M98"], "range": ["M-1.6,-0.8H1.6V0.8H-1.6Z","circle","triangle-down","square","diamond"]}, "legend": {"title": null, "legendX": 364, "legendY": 61.5, "encode": {"labels": {"update": {"fontSize": {"signal": "datum.label === 'Median' ? 6.5 : 5"}}}}}},
  "fill": {"field": "m", "type": "nominal", "scale": {"domain": ["Median","M79","M83","M94","M98"], "range": ["#c6c6c6","transparent","transparent","transparent","transparent"]}, "legend": {"title": null, "legendX": 364, "legendY": 61.5, "encode": {"labels": {"update": {"fontSize": {"signal": "datum.label === 'Median' ? 6.5 : 5"}}}}}},
  "stroke": {"field": "m", "type": "nominal", "scale": {"domain": ["Median","M79","M83","M94","M98"], "range": ["#8c8c8c","#222","#222","#222","#222"]}, "legend": {"title": null, "legendX": 364, "legendY": 61.5, "encode": {"labels": {"update": {"fontSize": {"signal": "datum.label === 'Median' ? 6.5 : 5"}}}}}}
 }},
{"data": {"name": "pE"}, "mark": {"type": "text", "fontSize": 4.5, "color": "#444", "dy": 5.5, "baseline": "middle"},
 "encoding": {"x": {"field": "g", "type": "ordinal", "scale": {"domain": [1,2,3,4,5,6,7], "range": [3, 376.1], "paddingInner": 0, "paddingOuter": 0}, "axis": null}, "xOffset": {"field": "w", "type": "ordinal", "scale": {"domain": [-6,-2,4,8,13,16,20], "paddingInner": 0, "paddingOuter": 0.53}},
  "y": {"datum": 0, "type": "quantitative", "scale": {"domain": [0,4,10,15], "range": [45.7,25,16,9.3]}, "axis": null}, "text": {"field": "w", "type": "nominal"}}},
{"data": {"name": "one"}, "mark": {"type": "text", "text": "Study week", "fontSize": 5.5, "color": "#333", "dy": 11.5, "baseline": "middle"},
 "encoding": {"x": {"datum": 4, "type": "ordinal", "scale": {"domain": [1,2,3,4,5,6,7], "range": [3, 376.1], "paddingInner": 0, "paddingOuter": 0}, "axis": null},
  "y": {"datum": 0, "type": "quantitative", "scale": {"domain": [0,4,10,15], "range": [45.7,25,16,9.3]}, "axis": null}}},
{"data": {"name": "tbl"}, "mark": {"type": "text", "fontSize": 7, "color": "#111", "baseline": "middle"},
 "encoding": {"x": {"field": "g", "type": "ordinal", "scale": {"domain": [1,2,3,4,5,6,7], "range": [3, 376.1], "paddingInner": 0, "paddingOuter": 0}, "axis": null},
  "y": {"field": "r", "type": "nominal", "scale": {"type": "point", "domain": ["IFNg","a","IL-2","b","TNFa","c","d","Pie slice"], "range": [65.7, 94], "padding": 0}, "axis": {"orient": "left", "domain": false, "ticks": false, "tickSize": 0, "labelPadding": 18.4, "labelAlign": "left", "labelBaseline": "middle", "labelFontSize": 7, "labelFontWeight": "bold", "labelColor": "#111", "title": null, "values": ["IFNg","IL-2","TNFa","Pie slice"]}},
  "text": {"field": "s", "type": "nominal"}}},
{"data": {"name": "sl"}, "mark": {"type": "point", "shape": "M-0.75,-1H0.75V1H-0.75Z", "size": 64, "filled": true, "opacity": 1, "stroke": "#7284a0", "strokeWidth": 1.4},
 "encoding": {"x": {"field": "g", "type": "ordinal", "scale": {"domain": [1,2,3,4,5,6,7], "range": [3, 376.1], "paddingInner": 0, "paddingOuter": 0}, "axis": null},
  "y": {"datum": "Pie slice", "type": "nominal", "scale": {"type": "point", "domain": ["IFNg","a","IL-2","b","TNFa","c","d","Pie slice"], "range": [65.7, 94], "padding": 0}, "axis": null},
  "color": {"field": "k", "type": "nominal", "scale": {"domain": ["3 cytokines","2 cytokines","1 cytokine"], "range": ["#e8202a","#1a3ce6","#35d835"]}, "legend": null}}},
{"data": {"name": "pieE"}, "transform": [{"stack": "f", "groupby": ["w"], "sort": [{"field": "k", "order": "descending"}], "offset": "normalize", "as": ["f0","f1"]}], "mark": {"type": "arc", "radius": 10},
 "encoding": {"x": {"field": "w", "type": "ordinal", "scale": {"type": "point", "domain": ["Wk -6","Wk -2","Wk 4","Wk 8","Wk 13","Wk 16","Wk 20"], "range": [227.6, 382.6], "padding": 0}, "axis": null},
  "y": {"datum": 0, "type": "quantitative", "scale": {"domain": [0,1], "range": [-2,-12]}, "axis": null},
  "theta": {"field": "f0", "type": "quantitative", "scale": {"domain": [0,1], "range": [0, 6.2832]}, "stack": null}, "theta2": {"field": "f1"},
  "color": {"field": "k", "type": "nominal", "scale": {"domain": ["3 cytokines","2 cytokines","1 cytokine"], "range": ["#e8202a","#1a3ce6","#35d835"]}, "legend": null}}},
{"data": {"name": "nE"}, "mark": {"type": "text", "font": "Open Sans", "fontSize": 6.5, "color": "#333", "dy": -12.3, "baseline": "middle"},
 "encoding": {"x": {"field": "w", "type": "ordinal", "scale": {"type": "point", "domain": ["Wk -6","Wk -2","Wk 4","Wk 8","Wk 13","Wk 16","Wk 20"], "range": [227.6, 382.6], "padding": 0}, "axis": null},
  "y": {"datum": 0, "type": "quantitative", "scale": {"domain": [0,1], "range": [-2,-12]}, "axis": null}, "text": {"field": "n", "type": "nominal"}}},
{"data": {"name": "nE"}, "mark": {"type": "text", "font": "Open Sans", "fontSize": 6.5, "color": "#333", "dy": 17, "baseline": "middle"},
 "encoding": {"x": {"field": "w", "type": "ordinal", "scale": {"type": "point", "domain": ["Wk -6","Wk -2","Wk 4","Wk 8","Wk 13","Wk 16","Wk 20"], "range": [227.6, 382.6], "padding": 0}, "axis": null},
  "y": {"datum": 0, "type": "quantitative", "scale": {"domain": [0,1], "range": [-2,-12]}, "axis": null}, "text": {"field": "w", "type": "nominal"}}},
{"data": {"name": "one"}, "mark": {"type": "text", "text": "F", "font": "Liberation Sans", "fontSize": 10, "align": "left", "baseline": "alphabetic", "dx": -13, "dy": -44, "color": "#222"},
 "encoding": {"x": {"datum": "Wk -6", "type": "ordinal", "scale": {"type": "point", "domain": ["Wk -6","Wk -2","Wk 4","Wk 8","Wk 13","Wk 16","Wk 20"], "range": [227.6, 382.6], "padding": 0}, "axis": null},
  "y": {"datum": 0, "type": "quantitative", "scale": {"domain": [0,1], "range": [-2,-12]}, "axis": null}}}
]
},
{
"width": 372.6, "height": 102,
"title": {"text": "G", "subtitle": ["ID"], "dx": -7, "offset": -24.3, "subtitlePadding": 5.5},
"resolve": {"scale": {"x": "independent", "y": "independent", "xOffset": "independent"}},
"layer": [
{"data": {"name": "one"}, "mark": {"type": "rule", "color": "#555", "strokeWidth": 0.8},
 "encoding": {"y": {"datum": 0, "type": "quantitative", "scale": {"domain": [0,5], "range": [48.3,11]}, "axis": null}}},
{"data": {"name": "mG"}, "mark": {"type": "bar", "width": 4.5, "fill": "#c6c6c6", "stroke": "#8c8c8c", "strokeWidth": 0.5},
 "encoding": {"x": {"field": "g", "type": "ordinal", "scale": {"domain": [1,2,3,4,5,6,7], "range": [-0.9, 373.6], "paddingInner": 0, "paddingOuter": 0}, "axis": null}, "xOffset": {"field": "w", "type": "ordinal", "scale": {"domain": [-6,-2,4,8,13,16,20], "paddingInner": 0, "paddingOuter": 0.53}},
  "y": {"field": "v", "type": "quantitative", "scale": {"domain": [0,5], "range": [48.3,11]}, "axis": null}}},
{"data": {"name": "pG"}, "transform": [{"fold": ["M75","M76","M92","M22"], "as": ["m","v"]}], "mark": {"type": "point", "size": 14, "strokeWidth": 0.8, "opacity": 1},
 "encoding": {
  "x": {"field": "g", "type": "ordinal", "scale": {"domain": [1,2,3,4,5,6,7], "range": [-0.9, 373.6], "paddingInner": 0, "paddingOuter": 0}, "axis": null},
  "xOffset": {"field": "w", "type": "ordinal", "scale": {"domain": [-6,-2,4,8,13,16,20], "paddingInner": 0, "paddingOuter": 0.53}},
  "y": {"field": "v", "type": "quantitative", "scale": {"domain": [0,5], "range": [48.3,11]}, "axis": {"orient": "left", "offset": -2.6, "values": [0,1,2,3,4,5], "title": ["Frequency (%) of","PPD-specific CD8 T-cells"], "titlePadding": 3}},
  "shape": {"field": "m", "type": "nominal", "scale": {"domain": ["Median","M75","M76","M92","M22"], "range": ["M-1.6,-0.8H1.6V0.8H-1.6Z","circle","triangle-down","square","diamond"]}, "legend": {"title": null, "legendX": 362, "legendY": 64, "encode": {"labels": {"update": {"fontSize": {"signal": "datum.label === 'Median' ? 6.5 : 5"}}}}}},
  "fill": {"field": "m", "type": "nominal", "scale": {"domain": ["Median","M75","M76","M92","M22"], "range": ["#c6c6c6","transparent","transparent","transparent","transparent"]}, "legend": {"title": null, "legendX": 362, "legendY": 64, "encode": {"labels": {"update": {"fontSize": {"signal": "datum.label === 'Median' ? 6.5 : 5"}}}}}},
  "stroke": {"field": "m", "type": "nominal", "scale": {"domain": ["Median","M75","M76","M92","M22"], "range": ["#8c8c8c","#222","#222","#222","#222"]}, "legend": {"title": null, "legendX": 362, "legendY": 64, "encode": {"labels": {"update": {"fontSize": {"signal": "datum.label === 'Median' ? 6.5 : 5"}}}}}}
 }},
{"data": {"name": "pG"}, "mark": {"type": "text", "fontSize": 4.5, "color": "#444", "dy": 5.5, "baseline": "middle"},
 "encoding": {"x": {"field": "g", "type": "ordinal", "scale": {"domain": [1,2,3,4,5,6,7], "range": [-0.9, 373.6], "paddingInner": 0, "paddingOuter": 0}, "axis": null}, "xOffset": {"field": "w", "type": "ordinal", "scale": {"domain": [-6,-2,4,8,13,16,20], "paddingInner": 0, "paddingOuter": 0.53}},
  "y": {"datum": 0, "type": "quantitative", "scale": {"domain": [0,5], "range": [48.3,11]}, "axis": null}, "text": {"field": "w", "type": "nominal"}}},
{"data": {"name": "one"}, "mark": {"type": "text", "text": "Study week", "fontSize": 5.5, "color": "#333", "dy": 11.5, "baseline": "middle"},
 "encoding": {"x": {"datum": 4, "type": "ordinal", "scale": {"domain": [1,2,3,4,5,6,7], "range": [-0.9, 373.6], "paddingInner": 0, "paddingOuter": 0}, "axis": null},
  "y": {"datum": 0, "type": "quantitative", "scale": {"domain": [0,5], "range": [48.3,11]}, "axis": null}}},
{"data": {"name": "tbl"}, "mark": {"type": "text", "fontSize": 7, "color": "#111", "baseline": "middle"},
 "encoding": {"x": {"field": "g", "type": "ordinal", "scale": {"domain": [1,2,3,4,5,6,7], "range": [-0.9, 373.6], "paddingInner": 0, "paddingOuter": 0}, "axis": null},
  "y": {"field": "r", "type": "nominal", "scale": {"type": "point", "domain": ["IFNg","a","IL-2","b","TNFa","c","d","Pie slice"], "range": [68, 97], "padding": 0}, "axis": {"orient": "left", "domain": false, "ticks": false, "tickSize": 0, "labelPadding": 18.4, "labelAlign": "left", "labelBaseline": "middle", "labelFontSize": 7, "labelFontWeight": "bold", "labelColor": "#111", "title": null, "values": ["IFNg","IL-2","TNFa","Pie slice"]}},
  "text": {"field": "s", "type": "nominal"}}},
{"data": {"name": "sl"}, "mark": {"type": "point", "shape": "M-0.75,-1H0.75V1H-0.75Z", "size": 64, "filled": true, "opacity": 1, "stroke": "#7284a0", "strokeWidth": 1.4},
 "encoding": {"x": {"field": "g", "type": "ordinal", "scale": {"domain": [1,2,3,4,5,6,7], "range": [-0.9, 373.6], "paddingInner": 0, "paddingOuter": 0}, "axis": null},
  "y": {"datum": "Pie slice", "type": "nominal", "scale": {"type": "point", "domain": ["IFNg","a","IL-2","b","TNFa","c","d","Pie slice"], "range": [68, 97], "padding": 0}, "axis": null},
  "color": {"field": "k", "type": "nominal", "scale": {"domain": ["3 cytokines","2 cytokines","1 cytokine"], "range": ["#e8202a","#1a3ce6","#35d835"]}, "legend": null}}},
{"data": {"name": "pieG"}, "transform": [{"stack": "f", "groupby": ["w"], "sort": [{"field": "k", "order": "descending"}], "offset": "normalize", "as": ["f0","f1"]}], "mark": {"type": "arc", "radius": 10},
 "encoding": {"x": {"field": "w", "type": "ordinal", "scale": {"type": "point", "domain": ["Wk -6","Wk -2","Wk 4","Wk 8","Wk 13","Wk 16","Wk 20"], "range": [224.3, 378.6], "padding": 0}, "axis": null},
  "y": {"datum": 0, "type": "quantitative", "scale": {"domain": [0,1], "range": [-1.7,-11.7]}, "axis": null},
  "theta": {"field": "f0", "type": "quantitative", "scale": {"domain": [0,1], "range": [0, 6.2832]}, "stack": null}, "theta2": {"field": "f1"},
  "color": {"field": "k", "type": "nominal", "scale": {"domain": ["3 cytokines","2 cytokines","1 cytokine"], "range": ["#e8202a","#1a3ce6","#35d835"]}, "legend": null}}},
{"data": {"name": "nG"}, "mark": {"type": "text", "font": "Open Sans", "fontSize": 6.5, "color": "#333", "dy": -13, "baseline": "middle"},
 "encoding": {"x": {"field": "w", "type": "ordinal", "scale": {"type": "point", "domain": ["Wk -6","Wk -2","Wk 4","Wk 8","Wk 13","Wk 16","Wk 20"], "range": [224.3, 378.6], "padding": 0}, "axis": null},
  "y": {"datum": 0, "type": "quantitative", "scale": {"domain": [0,1], "range": [-1.7,-11.7]}, "axis": null}, "text": {"field": "n", "type": "nominal"}}},
{"data": {"name": "nG"}, "mark": {"type": "text", "font": "Open Sans", "fontSize": 6.5, "color": "#333", "dy": 17.7, "baseline": "middle"},
 "encoding": {"x": {"field": "w", "type": "ordinal", "scale": {"type": "point", "domain": ["Wk -6","Wk -2","Wk 4","Wk 8","Wk 13","Wk 16","Wk 20"], "range": [224.3, 378.6], "padding": 0}, "axis": null},
  "y": {"datum": 0, "type": "quantitative", "scale": {"domain": [0,1], "range": [-1.7,-11.7]}, "axis": null}, "text": {"field": "w", "type": "nominal"}}},
{"data": {"name": "one"}, "mark": {"type": "text", "text": "H", "font": "Liberation Sans", "fontSize": 10, "align": "left", "baseline": "alphabetic", "dx": -9.7, "dy": -23.3, "color": "#222"},
 "encoding": {"x": {"datum": "Wk -6", "type": "ordinal", "scale": {"type": "point", "domain": ["Wk -6","Wk -2","Wk 4","Wk 8","Wk 13","Wk 16","Wk 20"], "range": [224.3, 378.6], "padding": 0}, "axis": null},
  "y": {"datum": 0, "type": "quantitative", "scale": {"domain": [0,1], "range": [-1.7,-11.7]}, "axis": null}}}
]
}
],
"resolve": {"scale": {"shape": "independent", "fill": "independent", "stroke": "independent", "color": "independent"}}
}
